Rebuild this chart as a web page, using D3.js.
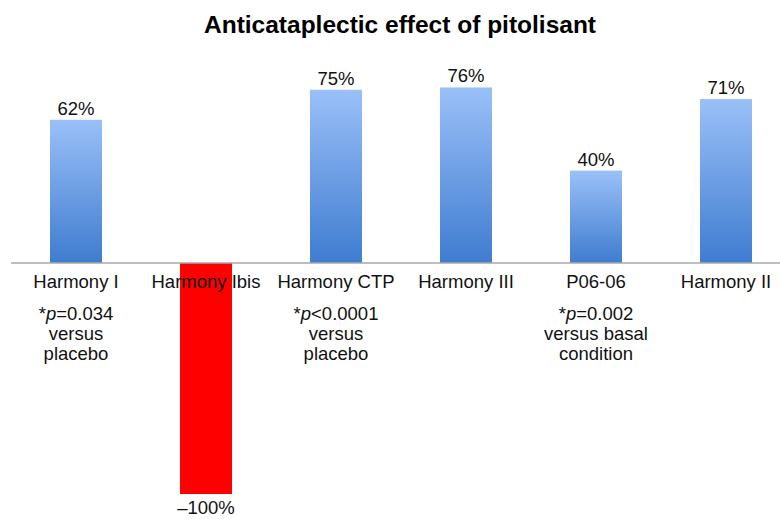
<!DOCTYPE html>
<html lang="en">
<head>
    <meta charset="UTF-8">
    <title>Anticataplectic effect of pitolisant</title>
    <style>
        body { margin: 0; background: #fff; }
        svg { font-family: "Liberation Sans", Arial, sans-serif; }
        .axis-line { stroke: #a8a8a8; stroke-width: 1.5px; }
        .lbl { font-size: 18.5px; fill: #111; text-anchor: middle; }
    </style>
</head>
<body>

<svg width="780" height="519"></svg>

<script src="https://cdn.jsdelivr.net/npm/d3@7"></script>

<script>
    var studies = ["Harmony I", "Harmony Ibis", "Harmony CTP", "Harmony III", "P06-06", "Harmony II"];
    var effect = [62, -100, 75, 76, 40, 71];
    var valueLabels = ["62%", "\u2013100%", "75%", "76%", "40%", "71%"];
    // p-value notes under some studies: [prefix, op+value, line2, line3]
    var notes = [
        ["*", "=0.034", "versus", "placebo"],
        null,
        ["*", "<0.0001", "versus", "placebo"],
        null,
        ["*", "=0.002", "versus basal", "condition"],
        null
    ];

    var svg = d3.select("svg");
    var width = +svg.attr("width");

    var x = d3.scaleBand()
        .domain(studies)
        .range([11, 791])
        .paddingInner(0.6)
        .paddingOuter(0.3);

    var y = d3.scaleLinear()
        .domain([-100, 100])
        .range([494, 32]);

    var defs = svg.append("defs");
    var grad = defs.append("linearGradient")
        .attr("id", "blueGrad")
        .attr("x1", 0).attr("y1", 0)
        .attr("x2", 0).attr("y2", 1);
    grad.append("stop").attr("offset", "0%").attr("stop-color", "#9ac0f8");
    grad.append("stop").attr("offset", "100%").attr("stop-color", "#3f7cd0");

    var data = studies.map(function(s, i) {
        return {name: s, value: effect[i], label: valueLabels[i], note: notes[i]};
    });

    // title
    svg.append("text")
        .attr("x", 400)
        .attr("y", 33)
        .attr("text-anchor", "middle")
        .style("font-size", "24.5px")
        .style("font-weight", "bold")
        .text("Anticataplectic effect of pitolisant");

    // bars
    svg.selectAll("rect.bar")
        .data(data)
        .enter().append("rect")
        .attr("class", "bar")
        .attr("x", d => x(d.name))
        .attr("width", x.bandwidth())
        .attr("y", d => y(Math.max(0, d.value)))
        .attr("height", d => Math.abs(y(d.value) - y(0)))
        .attr("fill", d => d.value < 0 ? "#ff0000" : "url(#blueGrad)");

    // baseline
    svg.append("line")
        .attr("class", "axis-line")
        .attr("x1", 11).attr("x2", width)
        .attr("y1", y(0)).attr("y2", y(0));

    // value labels
    svg.selectAll("text.val")
        .data(data)
        .enter().append("text")
        .attr("class", "lbl val")
        .attr("x", d => x(d.name) + x.bandwidth() / 2)
        .attr("y", d => d.value >= 0 ? y(d.value) - 5 : y(d.value) + 20)
        .text(d => d.label);

    // category labels
    svg.selectAll("text.cat")
        .data(data)
        .enter().append("text")
        .attr("class", "lbl cat")
        .attr("x", d => x(d.name) + x.bandwidth() / 2)
        .attr("y", y(0) + 25)
        .text(d => d.name);

    // notes
    var noteG = svg.selectAll("g.note")
        .data(data.filter(d => d.note))
        .enter().append("g")
        .attr("class", "note")
        .attr("transform", d => `translate(${x(d.name) + x.bandwidth() / 2}, ${y(0)})`);

    var first = noteG.append("text")
        .attr("class", "lbl")
        .attr("y", 57);
    first.append("tspan").text(d => d.note[0]);
    first.append("tspan").style("font-style", "italic").text("p");
    first.append("tspan").text(d => d.note[1]);

    noteG.append("text")
        .attr("class", "lbl")
        .attr("y", 77)
        .text(d => d.note[2]);

    noteG.append("text")
        .attr("class", "lbl")
        .attr("y", 97)
        .text(d => d.note[3]);
</script>

</body>
</html>
